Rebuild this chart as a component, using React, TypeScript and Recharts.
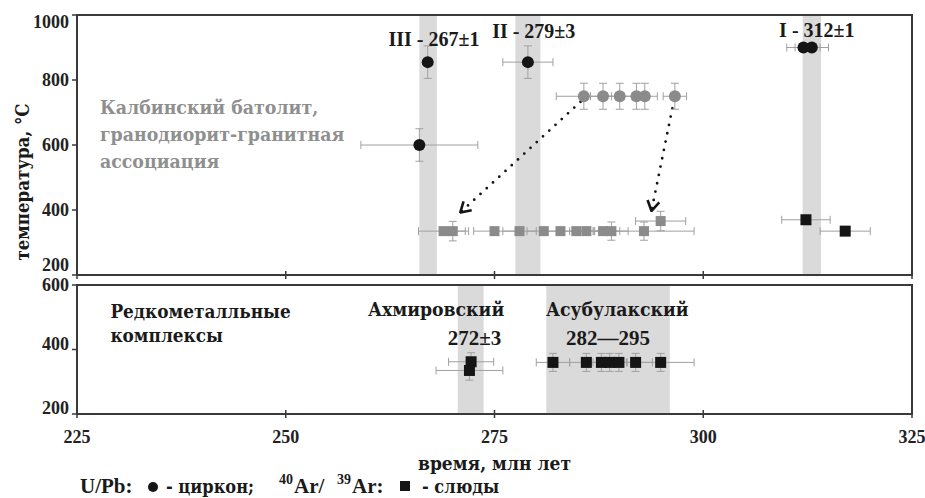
import React from 'react';
import { ScatterChart, Scatter, XAxis, YAxis, ErrorBar, ReferenceArea, ReferenceLine } from 'recharts';

const FONT = '"Liberation Serif", "Times New Roman", serif';
// serif face with Cyrillic glyphs
const CYR = '"DejaVu Serif Condensed", "DejaVu Serif", serif';

// axes
const xTicks = [225, 250, 275, 300, 325];
const topYTicks = [200, 400, 600, 800, 1000];
const bottomYTicks = [200, 400, 600];

// shaded age intervals
const topBands = [
  { x1: 266, x2: 268.1 },
  { x1: 277.5, x2: 280.5 },
  { x1: 311.9, x2: 314.1 },
];
const bottomBands = [
  { x1: 270.6, x2: 273.7 },
  { x1: 281.2, x2: 296.0 },
];

// U/Pb zircon (black) – top panel
const zirconBlack = [
  { x: 267, y: 855, ex: 0, ey: 50 },
  { x: 266, y: 600, ex: 7, ey: 50 },
  { x: 279, y: 855, ex: 3, ey: 50 },
  { x: 312, y: 900, ex: 2, ey: 0 },
  { x: 313, y: 900, ex: 2, ey: 0 },
];
// U/Pb zircon (grey, Kalba batholith)
const zirconGrey = [
  { x: 285.7, y: 750, ex: 3.3, ey: 40 },
  { x: 288, y: 750, ex: 1.5, ey: 40 },
  { x: 290, y: 750, ex: 1.5, ey: 40 },
  { x: 292, y: 750, ex: 1.5, ey: 40 },
  { x: 293, y: 750, ex: 1.5, ey: 40 },
  { x: 296.6, y: 750, ex: 1.4, ey: 40 },
];
// Ar/Ar mica (grey, Kalba batholith)
const micaGrey = [
  { x: 268.9, y: 335, ex: 3, ey: 0 },
  { x: 270, y: 335, ex: 1.5, ey: 30 },
  { x: 275, y: 335, ex: 2.5, ey: 0 },
  { x: 278, y: 335, ex: 2, ey: 0 },
  { x: 280.9, y: 335, ex: 2, ey: 0 },
  { x: 282.9, y: 335, ex: 2, ey: 0 },
  { x: 284.8, y: 335, ex: 2, ey: 0 },
  { x: 286, y: 335, ex: 2, ey: 0 },
  { x: 288, y: 335, ex: 2, ey: 0 },
  { x: 289, y: 335, ex: 2, ey: 28 },
  { x: 292.9, y: 335, ex: 6, ey: 28 },
  { x: 294.9, y: 366, ex: 3, ey: 30 },
];
// Ar/Ar mica (black) – top panel
const micaBlackTop = [
  { x: 312.3, y: 370, ex: 2.9, ey: 0 },
  { x: 317, y: 335, ex: 3, ey: 0 },
];
// Ar/Ar mica – rare-metal complexes (bottom panel)
const micaRare = [
  { x: 272.2, y: 362, ex: 2.7, ey: 28 },
  { x: 272.0, y: 335, ex: 4, ey: 30 },
  { x: 282, y: 360, ex: 2, ey: 28 },
  { x: 286, y: 360, ex: 2, ey: 28 },
  { x: 287.8, y: 360, ex: 2, ey: 28 },
  { x: 288.8, y: 360, ex: 2, ey: 28 },
  { x: 289.9, y: 360, ex: 2, ey: 28 },
  { x: 291.9, y: 360, ex: 2, ey: 28 },
  { x: 294.9, y: 360, ex: 4, ey: 28 },
];
// cooling arrows
const arrows = [
  { from: { x: 285.3, y: 733 }, to: { x: 270.9, y: 392 } },
  { from: { x: 296.3, y: 713 }, to: { x: 293.8, y: 397 } },
];
// annotations
const topHeaders = [
  { x: 267.75, y: 905, text: 'III - 267±1' },
  { x: 279.7, y: 930, text: 'II - 279±3' },
  { x: 313.6, y: 933, text: 'I - 312±1' },
];
const topGreyText = [
  { x: 227.75, y: 695, text: 'Калбинский батолит,' },
  { x: 227.75, y: 612, text: 'гранодиорит-гранитная' },
  { x: 227.75, y: 529, text: 'ассоциация' },
];
const bottomLeftText = [
  { x: 229, y: 498, text: 'Редкометалльные' },
  { x: 229, y: 423, text: 'комплексы' },
];
const bottomNames = [
  { x: 268.0, y: 505, text: 'Ахмировский' },
  { x: 289.7, y: 505, text: 'Асубулакский' },
];
const bottomAges = [
  { x: 272.6, y: 414, text: '272±3' },
  { x: 288.6, y: 414, text: '282—295' },
];
const yTitle = 'температура, °C';
const xTitle = 'время, млн лет';

const BLACK = '#151515';
const GREY = '#8b8b8b';
const BAND = '#dadada';
const FRAME = '#3a3a3a';
const ERR = '#a0a0a0';
const TXT = '#1a1a1a';

const circle = (fill: string, r: number) => (p: any) =>
  p.cx == null ? <g /> : <circle cx={p.cx} cy={p.cy} r={r} fill={fill} />;
const square = (fill: string, s: number) => (p: any) =>
  p.cx == null ? <g /> : <rect x={p.cx - s / 2} y={p.cy - s / 2} width={s} height={s} fill={fill} />;
const textShape = (fill: string, anchor: string, size: number, family: string) => (p: any) =>
  p.cx == null ? <g /> : (
    <text x={p.cx} y={p.cy} fill={fill} textAnchor={anchor} fontFamily={family} fontWeight="bold" fontSize={size}>
      {p.payload.text}
    </text>
  );

const topTick = (p: any) => (
  <line x1={p.x} x2={p.x} y1={p.y - 4} y2={p.y + 4} stroke={FRAME} strokeWidth={1.5} />
);
const bottomTick = (p: any) => (
  <g>
    <line x1={p.x} x2={p.x} y1={p.y - 4} y2={p.y + 4} stroke={FRAME} strokeWidth={1.5} />
    <text x={p.x} y={p.y + 29} textAnchor="middle" fontFamily={FONT} fontWeight="bold" fontSize={18} fill="#222">
      {p.payload.value}
    </text>
  </g>
);
// y tick label; the extreme labels are nudged inside the panel
const yTick = (shift: Record<number, number>) => (p: any) => (
  <text x={p.x} y={p.y + (shift[p.payload.value] || 0)} dy="0.35em" textAnchor="end" fontFamily={FONT} fontWeight="bold" fontSize={18} fill="#222">
    {p.payload.value}
  </text>
);

const arrowShape = (p: any) => (
  <g>
    <defs>
      <marker id="chev" viewBox="0 0 12 14" refX="11" refY="7" markerWidth="12" markerHeight="14" markerUnits="userSpaceOnUse" orient="auto">
        <path d="M1,1 L11,7 L1,13" fill="none" stroke={BLACK} strokeWidth={2.6} />
      </marker>
    </defs>
    <line x1={p.x1} y1={p.y1} x2={p.x2} y2={p.y2} stroke={BLACK} strokeWidth={2.8} strokeDasharray="0 8.5" strokeLinecap="round" markerEnd="url(#chev)" />
  </g>
);

const errProps = { stroke: ERR, strokeWidth: 1, width: 4 } as any;

export default function App() {
  return (
    <div style={{ position: 'absolute', left: 0, top: 0, width: 925, height: 498, background: '#fff', overflow: 'hidden' }}>
      <div style={{ position: 'absolute', left: 0, top: 0 }}>
        <ScatterChart width={925} height={290} margin={{ top: 15, right: 13, bottom: 10, left: 17 }}>
          <XAxis type="number" dataKey="x" domain={[225, 325]} ticks={xTicks} allowDataOverflow
            height={5} axisLine={{ stroke: FRAME, strokeWidth: 2 }} tickLine={false} tickSize={0} tickMargin={0} tick={topTick} />
          <YAxis type="number" dataKey="y" domain={[200, 1000]} ticks={topYTicks} allowDataOverflow width={60}
            axisLine={{ stroke: FRAME, strokeWidth: 2 }} tickLine={{ stroke: FRAME, strokeWidth: 1.5 }} tickSize={5} tickMargin={3}
            tick={yTick({ 200: -10, 1000: 7 })}
            label={{
              content: () => (
                <text x={29} y={182} transform="rotate(-90, 29, 182)" textAnchor="middle" fontFamily={CYR} fontWeight="bold" fontSize={18.5} fill={TXT}>
                  {yTitle}
                </text>
              ),
            }} />
          {topBands.map((b, i) => (
            <ReferenceArea key={'tb' + i} x1={b.x1} x2={b.x2} y1={200} y2={1000} fill={BAND} fillOpacity={1} stroke="none" />
          ))}
          {arrows.map((a, i) => (
            <ReferenceLine key={'ar' + i} segment={[a.from, a.to]} stroke={BLACK} shape={arrowShape} />
          ))}
          <Scatter data={micaGrey} shape={square(GREY, 10)} isAnimationActive={false}>
            <ErrorBar dataKey="ex" direction="x" {...errProps} />
            <ErrorBar dataKey="ey" direction="y" {...errProps} />
          </Scatter>
          <Scatter data={zirconGrey} shape={circle(GREY, 6)} isAnimationActive={false}>
            <ErrorBar dataKey="ex" direction="x" {...errProps} />
            <ErrorBar dataKey="ey" direction="y" {...errProps} />
          </Scatter>
          <Scatter data={zirconBlack} shape={circle(BLACK, 6)} isAnimationActive={false}>
            <ErrorBar dataKey="ex" direction="x" {...errProps} />
            <ErrorBar dataKey="ey" direction="y" {...errProps} />
          </Scatter>
          <Scatter data={micaBlackTop} shape={square(BLACK, 11)} isAnimationActive={false}>
            <ErrorBar dataKey="ex" direction="x" {...errProps} />
          </Scatter>
          <Scatter data={topHeaders} shape={textShape(TXT, 'middle', 20, FONT)} isAnimationActive={false} />
          <Scatter data={topGreyText} shape={textShape('#8f8f8f', 'start', 19.3, CYR)} isAnimationActive={false} />
          <ReferenceArea x1={225} x2={325} y1={200} y2={1000} fill="none" stroke={FRAME} strokeWidth={2} />
        </ScatterChart>
      </div>
      <div style={{ position: 'absolute', left: 0, top: 275 }}>
        <ScatterChart width={925} height={223} margin={{ top: 10, right: 13, bottom: 28, left: 17 }}>
          <XAxis type="number" dataKey="x" domain={[225, 325]} ticks={xTicks} allowDataOverflow
            height={56} axisLine={{ stroke: FRAME, strokeWidth: 2 }} tickLine={false} tickSize={0} tickMargin={0} tick={bottomTick}
            label={{ value: xTitle, position: 'insideBottom', offset: 0, fontFamily: CYR, fontWeight: 'bold', fontSize: 19, fill: TXT }} />
          <YAxis type="number" dataKey="y" domain={[200, 600]} ticks={bottomYTicks} allowDataOverflow width={60}
            axisLine={{ stroke: FRAME, strokeWidth: 2 }} tickLine={{ stroke: FRAME, strokeWidth: 1.5 }} tickSize={5} tickMargin={3}
            tick={yTick({ 200: -6, 400: -6 })} />
          {bottomBands.map((b, i) => (
            <ReferenceArea key={'bb' + i} x1={b.x1} x2={b.x2} y1={200} y2={600} fill={BAND} fillOpacity={1} stroke="none" />
          ))}
          <Scatter data={micaRare} shape={square(BLACK, 11)} isAnimationActive={false}>
            <ErrorBar dataKey="ex" direction="x" {...errProps} />
            <ErrorBar dataKey="ey" direction="y" {...errProps} />
          </Scatter>
          <Scatter data={bottomLeftText} shape={textShape(TXT, 'start', 18.8, CYR)} isAnimationActive={false} />
          <Scatter data={bottomNames} shape={textShape(TXT, 'middle', 19.2, CYR)} isAnimationActive={false} />
          <Scatter data={bottomAges} shape={textShape(TXT, 'middle', 21, FONT)} isAnimationActive={false} />
          <ReferenceArea x1={225} x2={325} y1={200} y2={600} fill="none" stroke={FRAME} strokeWidth={2} />
        </ScatterChart>
      </div>
      <svg width={925} height={30} style={{ position: 'absolute', left: 0, top: 468 }} fontWeight="bold" fill={TXT}>
        <text x={80} y={25} fontSize={21} fontFamily={FONT}>U/Pb:</text>
        <circle cx={153} cy={19} r={5} fill={BLACK} />
        <text x={166} y={25} fontSize={18} fontFamily={CYR}>- циркон;</text>
        <text x={279} y={16} fontSize={14} fontFamily={FONT}>40</text>
        <text x={294} y={25} fontSize={21} fontFamily={FONT}>Ar/</text>
        <text x={337} y={16} fontSize={14} fontFamily={FONT}>39</text>
        <text x={352} y={25} fontSize={21} fontFamily={FONT}>Ar:</text>
        <rect x={400} y={13} width={10} height={10} fill={BLACK} />
        <text x={422} y={25} fontSize={18} fontFamily={CYR}>- слюды</text>
      </svg>
    </div>
  );
}
